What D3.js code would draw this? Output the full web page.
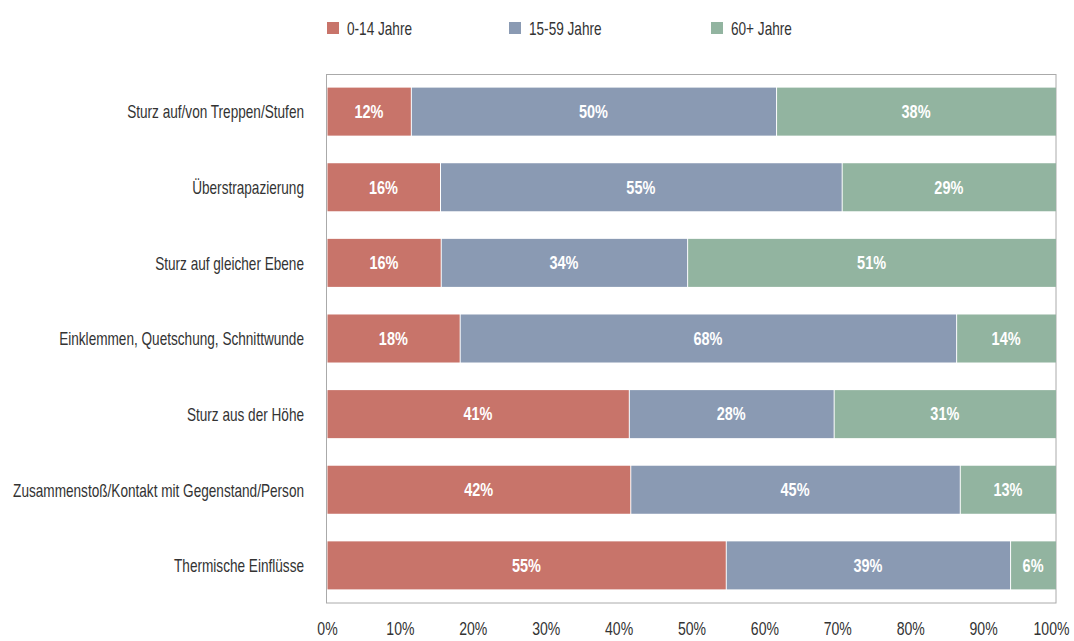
<!DOCTYPE html>
<html><head><meta charset="utf-8">
<script src="https://cdn.jsdelivr.net/npm/d3@7"></script>
<style>
body{margin:0;background:#fff;}
svg text{font-family:"Liberation Sans",Arial,sans-serif;}
</style></head>
<body><svg id="c" width="1074" height="641"></svg>
<script>
const categories = ["Sturz auf/von Treppen/Stufen","Überstrapazierung","Sturz auf gleicher Ebene","Einklemmen, Quetschung, Schnittwunde","Sturz aus der Höhe","Zusammenstoß/Kontakt mit Gegenstand/Person","Thermische Einflüsse"];
const seriesNames = ["0-14 Jahre","15-59 Jahre","60+ Jahre"];
const young = [11.5,15.5,15.6,18.2,41.4,41.6,54.7];
const middle = [50.1,55.1,33.8,68.1,28.1,45.2,39.0];
const old = [38.4,29.4,50.6,13.7,30.5,13.2,6.3];
const youngLabels = ["12%","16%","16%","18%","41%","42%","55%"];
const middleLabels = ["50%","55%","34%","68%","28%","45%","39%"];
const oldLabels = ["38%","29%","51%","14%","31%","13%","6%"];
const tickValues = [0,10,20,30,40,50,60,70,80,90,100];
const colors = ["#C8746A","#8A9AB3","#92B4A0"];

const svg = d3.select("#c");
const pL=327, pR=1056, pT=74, pB=603;
const fsN = 19, fsB = 17.5, fsT = 18;
const x = d3.scaleLinear().domain([0,100]).range([pL,pR]);
const y = d3.scaleBand().domain(categories).range([pT,pB]).paddingInner(0.365).paddingOuter(0.18);

// condense factors measured from a probe
const probe = svg.append("text").attr("font-size",fsN).text("Zusammenstoß/Kontakt mit Gegenstand/Person");
const kN = 291 / probe.node().getComputedTextLength();
probe.attr("font-size",fsT).text("100%");
const kT = 36 / probe.node().getComputedTextLength();
probe.attr("font-weight","bold").attr("font-size",fsB).text("12%");
const kB = 29 / probe.node().getComputedTextLength();
probe.remove();

const rows = categories.map((c,i)=>({cat:c, young:young[i], middle:middle[i], old:old[i]}));
const labels = [youngLabels, middleLabels, oldLabels];
const stack = d3.stack().keys(["young","middle","old"])(rows);

// frame
svg.append("rect").attr("x",pL-0.5).attr("y",pT+0.5).attr("width",pR-pL+0.5).attr("height",pB-pT-0.5)
  .attr("fill","none").attr("stroke","#aaaaaa").attr("stroke-width",1);

stack.forEach((layer,li)=>{
  const g = svg.append("g");
  g.selectAll("rect").data(layer).enter().append("rect")
    .attr("x",d=>x(d[0])+(d[0]>0?1:0.5))
    .attr("y",d=>y(d.data.cat))
    .attr("width",d=>x(d[1])-x(d[0])-(d[0]>0?1:0.5))
    .attr("height",y.bandwidth())
    .attr("fill",colors[li]);
  g.selectAll("text").data(layer).enter().append("text")
    .attr("transform",d=>`translate(${(x(d[0])+x(d[1]))/2},${y(d.data.cat)+y.bandwidth()/2}) scale(${kB},1)`)
    .attr("dy","0.36em").attr("text-anchor","middle")
    .attr("fill","#fff").attr("font-weight","bold").attr("font-size",fsB)
    .text((d,i)=>labels[li][i]);
});

// y labels
svg.append("g").selectAll("text").data(categories).enter().append("text")
  .attr("transform",d=>`translate(304,${y(d)+y.bandwidth()/2}) scale(${kN},1)`).attr("dy","0.36em")
  .attr("text-anchor","end").attr("font-size",fsN).attr("fill","#333")
  .text(d=>d);

// x axis
const xAxis = d3.axisBottom(x).tickValues(tickValues).tickFormat(d=>d+"%").tickSize(0).tickPadding(0);
const ax = svg.append("g").attr("transform",`translate(0,629)`).call(xAxis);
ax.attr("font-family",null).attr("font-size",null);
ax.select(".domain").remove();
ax.selectAll("text").attr("font-size",fsT).attr("fill","#333").attr("dy","0.36em").attr("y",0)
  .attr("transform",`scale(${kT},1)`);
ax.selectAll(".tick").filter(d=>d===100).select("text").attr("text-anchor","end").attr("x",(1069-pR)/kT);

// legend
const legX = [327,509,711];
const leg = svg.append("g");
seriesNames.forEach((n,i)=>{
  leg.append("rect").attr("x",legX[i]).attr("y",22).attr("width",12).attr("height",12).attr("fill",colors[i]);
  leg.append("text").attr("transform",`translate(${legX[i]+20},28) scale(${kN},1)`).attr("dy","0.36em")
    .attr("font-size",fsN).attr("fill","#333").text(n);
});
</script></body></html>
